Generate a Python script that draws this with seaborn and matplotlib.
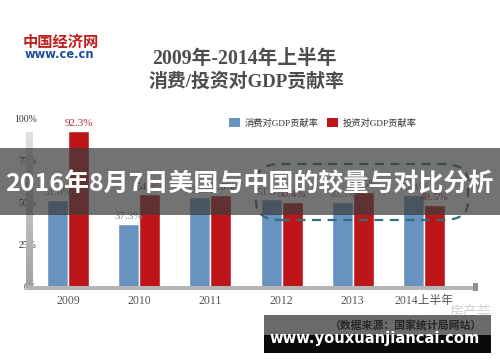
import matplotlib
matplotlib.use("Agg")
import matplotlib.pyplot as plt
import seaborn as sns
import pandas as pd
from matplotlib.patches import Rectangle, FancyBboxPatch, Patch

years = ["2009", "2010", "2011", "2012", "2013", "2014上半年"]
consumption = [51.6, 37.3, 53.0, 51.8, 50.3, 54.4]
investment = [92.3, 54.8, 54.6, 50.4, 56.5, 48.5]
series_names = ["消费对GDP贡献率", "投资对GDP贡献率"]
ytick_vals = [0, 25, 50, 75, 100]
ytick_labels = ["0%", "25%", "50%", "75%", "100%"]

title1 = "2009年-2014年上半年"
title2 = "消费/投资对GDP贡献率"
overlay_text = "2016年8月7日美国与中国的较量与对比分析"
source_text = "（数据来源：国家统计局网站）"
site_text = "www.youxuanjiancai.com"

BLUE = "#6892c0"
RED = "#bd1518"

sns.set_theme(style="white")
plt.rcParams["font.family"] = ["Liberation Serif", "Noto Sans CJK SC", "DejaVu Sans"]

df = pd.DataFrame({
    "year": years * 2,
    "value": consumption + investment,
    "series": [series_names[0]] * len(years) + [series_names[1]] * len(years),
})

W, H = 500, 362
fig = plt.figure(figsize=(W / 100, H / 100), dpi=100)
fig.patch.set_facecolor("white")

def fx(px):
    return px / W

def fy(py):
    return 1 - py / H

ax_left, ax_right = 38, 478
y0, y100 = 287, 118
ax = fig.add_axes([fx(ax_left), fy(y0), fx(ax_right - ax_left), (y0 - y100) / H])
sns.barplot(data=df, x="year", y="value", hue="series", order=years,
            hue_order=series_names, palette=[BLUE, RED], width=0.59,
            saturation=1, dodge=True, legend=False, ax=ax, zorder=2)
step = 71.2
ax.set_xlim((ax_left - 68) / step, (ax_right - 68) / step)
ax.set_ylim(0, 100)
ax.set_xlabel("")
ax.set_ylabel("")
ax.set_yticks(ytick_vals)
ax.set_yticklabels(ytick_labels, fontsize=7, color="#333333")
ax.tick_params(axis="y", length=0, pad=1)
ax.tick_params(axis="x", length=0, pad=6)
for lab in ax.get_xticklabels():
    lab.set_fontsize(8.5)
    lab.set_color("#555555")
for s in ax.spines.values():
    s.set_visible(False)
ax.patch.set_alpha(0)

label_colors = ["#7a8595", "#a52a3a"]
for cont, col in zip(ax.containers, label_colors):
    ax.bar_label(cont, labels=[f"{v:.1f}%" for v in cont.datavalues],
                 fontsize=8, color=col, padding=2)

# left gradient bar and bottom axis line
for i in range(20):
    top = 132 + i * (287 - 132) / 20
    hgt = (287 - 132) / 20 + 0.5
    shade = 0.88 - 0.25 * i / 19
    fig.patches.append(Rectangle((fx(26), fy(top + hgt)), fx(7), hgt / H,
                                 transform=fig.transFigure, facecolor=(shade, shade, shade),
                                 edgecolor="none", zorder=0))
fig.patches.append(Rectangle((fx(27), fy(289.5)), fx(450), 4 / H, transform=fig.transFigure,
                             facecolor="#b5b5b5", edgecolor="none", zorder=1))
fig.patches.append(Rectangle((fx(473), fy(291)), fx(5), 8 / H, transform=fig.transFigure,
                             facecolor="#909090", edgecolor="none", zorder=1))

# logo
fig.text(fx(23), fy(42), "中国经济网", fontsize=11, color="#c0201c", fontweight="bold",
         family=["Noto Sans CJK SC"], va="center", ha="left")
fig.text(fx(25), fy(54), "www.ce.cn", fontsize=8.3, color="#1f4f9a", fontweight="bold",
         family=["DejaVu Sans"], va="center", ha="left")

# title
fig.text(fx(244), fy(59), title1, fontsize=14.2, color="#4d4d4d", fontweight="bold",
         ha="center", va="center")
fig.text(fx(246), fy(82), title2, fontsize=13.6, color="#4d4d4d", fontweight="bold",
         ha="center", va="center")

# legend
handles = [Patch(facecolor=BLUE, edgecolor="none"), Patch(facecolor=RED, edgecolor="none")]
fig.legend(handles, series_names, loc="center left", bbox_to_anchor=(fx(221), fy(123)),
           ncol=2, frameon=False, fontsize=6.7, handlelength=1.1, handleheight=1.0,
           columnspacing=1.0, handletextpad=0.5, labelcolor="#333333")

# dashed rounded box
fig.patches.append(FancyBboxPatch((fx(256), fy(220)), fx(212), 56 / H,
                                  boxstyle="round,pad=0.0,rounding_size=0.05",
                                  transform=fig.transFigure, facecolor="none",
                                  edgecolor="#2f6f82", linestyle=(0, (4, 3)), linewidth=1.6,
                                  zorder=5))

# watermark
fig.text(fx(470), fy(311), "房产荟", fontsize=10, color="#d0d0d0",
         family=["Noto Sans CJK SC"], ha="center", va="center")

# overlay band with title text
fig.patches.append(Rectangle((0, fy(215)), 1, 67 / H, transform=fig.transFigure,
                             facecolor=(0.24, 0.24, 0.24), alpha=0.72, edgecolor="none", zorder=10))
fig.text(fx(249), fy(184), overlay_text, fontsize=18.0, color="white", fontweight="bold",
         family=["Noto Sans CJK SC"], ha="center", va="center", zorder=11)

# bottom site band
fig.patches.append(Rectangle((fx(264), fy(335)), fx(227), 20 / H, transform=fig.transFigure,
                             facecolor="#6a6a6a", edgecolor="none", zorder=10))
fig.patches.append(Rectangle((fx(264), fy(353)), fx(227), 18 / H, transform=fig.transFigure,
                             facecolor="#0a0a0a", edgecolor="none", zorder=10))
fig.text(fx(406), fy(325), source_text, fontsize=7.8, color="#262626", fontweight="bold",
         family=["Noto Sans CJK SC"], ha="center", va="center", zorder=11)
fig.text(fx(375), fy(338), site_text, fontsize=10.6, color="white", fontweight="bold",
         family=["DejaVu Sans"], ha="center", va="center", zorder=12)

fig.savefig("out.png", dpi=100)
